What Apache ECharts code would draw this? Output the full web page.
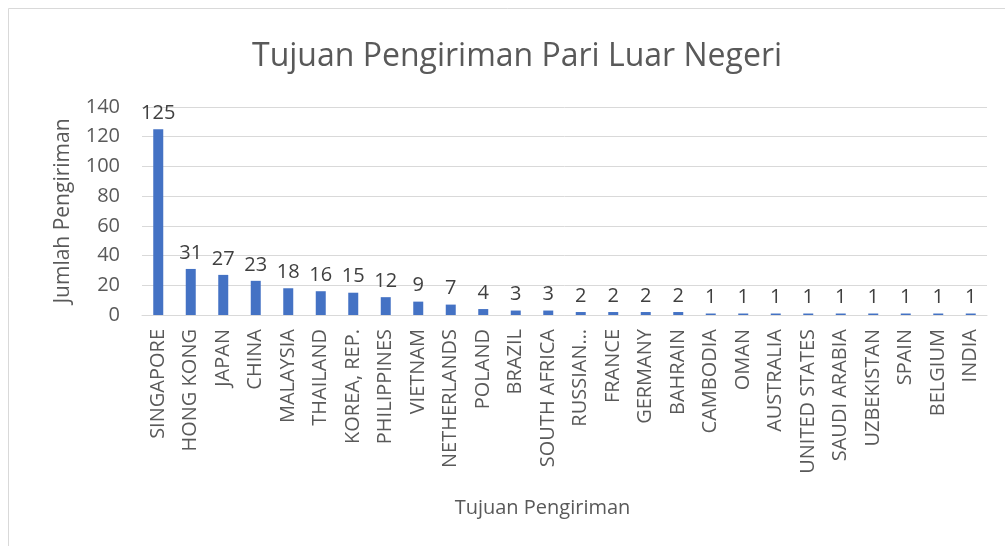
<!DOCTYPE html>
<html lang="en">
<head>
    <meta charset="UTF-8">
    <title>Tujuan Pengiriman</title>
    <script src="https://cdn.jsdelivr.net/npm/echarts@6.0.0/dist/echarts.min.js"></script>
    <style>
        html, body { margin: 0; padding: 0; background: #fff; }
        #chart { width: 1005px; height: 546px; }
    </style>
</head>
<body>
<div id="chart"></div>
<script>
    // data
    var negara = ['SINGAPORE', 'HONG KONG', 'JAPAN', 'CHINA', 'MALAYSIA', 'THAILAND', 'KOREA, REP.',
        'PHILIPPINES', 'VIETNAM', 'NETHERLANDS', 'POLAND', 'BRAZIL', 'SOUTH AFRICA', 'RUSSIAN…',
        'FRANCE', 'GERMANY', 'BAHRAIN', 'CAMBODIA', 'OMAN', 'AUSTRALIA', 'UNITED STATES',
        'SAUDI ARABIA', 'UZBEKISTAN', 'SPAIN', 'BELGIUM', 'INDIA'];
    var jumlah = [125, 31, 27, 23, 18, 16, 15, 12, 9, 7, 4, 3, 3, 2, 2, 2, 2, 1, 1, 1, 1, 1, 1, 1, 1, 1];
    var yTicks = [0, 20, 40, 60, 80, 100, 120, 140];

    var font = '"Open Sans", "Noto Sans", sans-serif';
    var chart = echarts.init(document.getElementById('chart'));
    var option = {
        backgroundColor: '#fff',
        animation: false,
        title: {
            text: 'Tujuan Pengiriman Pari Luar Negeri',
            left: 247,
            top: 36,
            textStyle: {fontFamily: font, fontSize: 32, fontWeight: 'normal', color: '#595959'}
        },
        graphic: [{
            type: 'rect',
            shape: {x: 8.5, y: 8.5, width: 1100, height: 600},
            style: {fill: 'none', stroke: '#d9d9d9', lineWidth: 1}
        }],
        grid: {left: 142, right: 18, top: 107, bottom: 231},
        xAxis: {
            type: 'category',
            data: negara,
            name: 'Tujuan Pengiriman',
            nameLocation: 'middle',
            nameGap: 183,
            nameTextStyle: {fontFamily: font, fontSize: 20, color: '#595959', padding: [0, 44, 0, 0]},
            axisLine: {lineStyle: {color: '#d9d9d9'}},
            axisTick: {show: false},
            axisLabel: {
                interval: 0, rotate: 90, margin: 14,
                fontFamily: font, fontSize: 20, color: '#595959'
            }
        },
        yAxis: {
            type: 'value',
            min: yTicks[0],
            max: yTicks[yTicks.length - 1],
            interval: 20,
            name: 'Jumlah Pengiriman',
            nameLocation: 'middle',
            nameGap: 68,
            nameTextStyle: {fontFamily: font, fontSize: 21, color: '#595959'},
            axisLine: {show: false},
            axisTick: {show: false},
            axisLabel: {margin: 22, fontFamily: font, fontSize: 20, color: '#595959'},
            splitLine: {lineStyle: {color: '#d9d9d9'}}
        },
        series: [{
            type: 'bar',
            data: jumlah,
            barWidth: 10,
            itemStyle: {color: '#4472c4'},
            label: {
                show: true, position: 'top', distance: 6,
                fontFamily: font, fontSize: 20, color: '#404040'
            }
        }]
    };
    chart.setOption(option);
</script>
</body>
</html>
